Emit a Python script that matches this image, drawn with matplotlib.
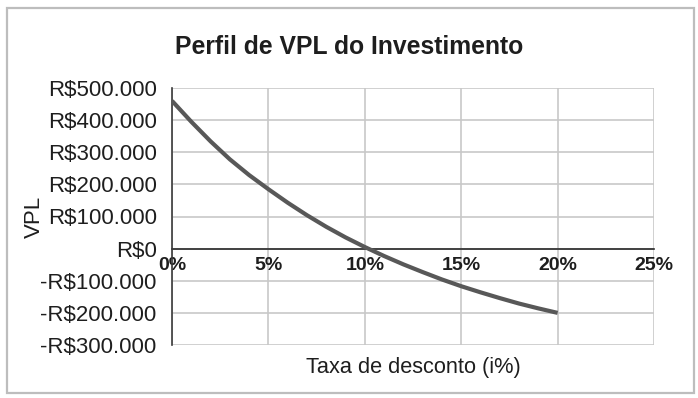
import matplotlib
matplotlib.use("Agg")
import matplotlib.pyplot as plt
from matplotlib.patches import Rectangle
from matplotlib.ticker import FuncFormatter
plt.rcParams["font.family"] = ["Liberation Sans", "DejaVu Sans"]

# taxa de desconto (fração) e VPL
taxa = [0.00, 0.01, 0.02, 0.03, 0.04, 0.05, 0.06, 0.07, 0.08, 0.09, 0.10,
        0.11, 0.12, 0.13, 0.14, 0.15, 0.16, 0.17, 0.18, 0.19, 0.20]
vpl = [460000, 395000, 334000, 278000, 229000, 185000, 143000, 104000, 68000, 35000, 5000,
       -23000, -49000, -73000, -96000, -117000, -136000, -154000, -171000, -186000, -200000]

xticks = [0, 0.05, 0.10, 0.15, 0.20, 0.25]
yticks = [-300000, -200000, -100000, 0, 100000, 200000, 300000, 400000, 500000]


def reais(v, pos=None):
    s = "R$" + f"{abs(v):,.0f}".replace(",", ".")
    return "-" + s if v < 0 else s


fig = plt.figure(figsize=(6.98, 3.98), dpi=100)
ax = fig.add_axes([172 / 698, 1 - 345 / 398, 482 / 698, 257 / 398])

ax.plot(taxa, vpl, color="#585858", lw=3.0, solid_capstyle="butt", zorder=3)

ax.set_xlim(0, 0.25)
ax.set_ylim(-300000, 500000)
ax.set_xticks(xticks)
ax.set_yticks(yticks)
ax.xaxis.set_major_formatter(FuncFormatter(lambda v, p: f"{v * 100:.0f}%"))
ax.yaxis.set_major_formatter(FuncFormatter(reais))

ax.grid(True, color="#c8c8c8", lw=1.2)
ax.set_axisbelow(True)
for s in ["top", "right"]:
    ax.spines[s].set_visible(False)
ax.spines["left"].set_color("#3a3a3a")
ax.spines["left"].set_linewidth(1.2)
ax.spines["bottom"].set_position(("data", 0))
ax.spines["bottom"].set_color("#2a2a2a")
ax.spines["bottom"].set_linewidth(1.2)
ax.spines["bottom"].set_zorder(2)

ax.tick_params(axis="y", length=0, pad=11, labelsize=16, labelcolor="#1e1e1e")
ax.tick_params(axis="x", length=0, pad=6, labelsize=14, labelcolor="#1e1e1e")
for lab in ax.get_xticklabels():
    lab.set_fontweight("bold")

ax.set_xlabel("Taxa de desconto (i%)", fontsize=15.7, color="#1e1e1e")
ax.xaxis.set_label_coords(0.5, -0.045)
ax.set_ylabel("VPL", fontsize=16, color="#1e1e1e", va="center")
ax.yaxis.set_label_coords(-0.286, 0.5)

fig.suptitle("Perfil de VPL do Investimento", x=0.5, y=1 - 47 / 398, va="center",
             fontsize=17.8, fontweight="bold", color="#1e1e1e")

fig.patches.append(Rectangle((7 / 698, 1 - 393 / 398), 687 / 698, 385.5 / 398,
                             transform=fig.transFigure, fill=False,
                             edgecolor="#bdbdbd", lw=1.6))

plt.savefig("out.png", dpi=100)
